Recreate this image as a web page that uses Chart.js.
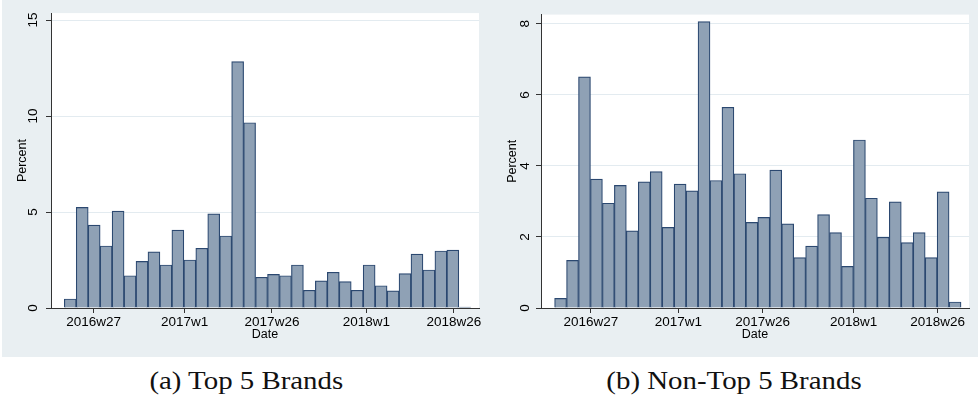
<!DOCTYPE html>
<html>
<head>
<meta charset="utf-8">
<script src="https://cdn.jsdelivr.net/npm/chart.js@4.4.1/dist/chart.umd.min.js"></script>
<style>
    html, body { margin: 0; padding: 0; background: #ffffff; }
    body { width: 980px; height: 398px; position: relative; overflow: hidden; }
    .panel { position: absolute; top: 0; width: 488px; height: 357px; background: #e9eff2; }
    .caption {
        position: absolute; top: 368px; width: 488px; text-align: center;
        font-family: "Liberation Serif", serif; font-size: 26px; line-height: 26px; color: #111;
    }
    .caption span { display: inline-block; transform: scaleX(1.11); }
</style>
</head>
<body>
<div class="panel" style="left:2px"><canvas id="top5-chart" width="488" height="357"></canvas></div>
<div class="panel" style="left:490px"><canvas id="nontop5-chart" width="488" height="357"></canvas></div>
<div class="caption" style="left:2px"><span>(a) Top 5 Brands</span></div>
<div class="caption" style="left:490px"><span>(b) Non-Top 5 Brands</span></div>
<script>
// week index: 0 = 2016w27
const tickWeeks = [0, 26, 51, 78, 103];
const tickLabels = ['2016w27', '2017w1', '2017w26', '2018w1', '2018w26'];

// histogram bins (in weeks from 2016w27)
const top5BinStart = -8.40;
const top5BinWidth = 3.419;
const top5Percent = [0.47, 5.24, 4.32, 3.23, 5.05, 1.68, 2.43, 2.92, 2.24, 4.06,
    2.50, 3.11, 4.90, 3.75, 12.83, 9.65, 1.60, 1.75, 1.68, 2.24,
    0.92, 1.41, 1.86, 1.37, 0.92, 2.24, 1.16, 0.89, 1.79, 2.81,
    1.98, 2.97, 3.02, 0.05];
const top5YTicks = [0, 5, 10, 15];

const nonTop5BinStart = -10.80;
const nonTop5BinWidth = 3.551;
const nonTop5Percent = [0.27, 1.34, 6.51, 3.63, 2.95, 3.45, 2.17, 3.55, 3.84, 2.27,
    3.49, 3.30, 8.06, 3.59, 5.65, 3.78, 2.41, 2.55, 3.88, 2.37,
    1.42, 1.74, 2.63, 2.12, 1.17, 4.73, 3.09, 1.99, 2.99, 1.84,
    2.12, 1.42, 3.27, 0.17];
const nonTop5YTicks = [0, 2, 4, 6, 8];

const plotAreaPlugin = {
    id: 'plotArea',
    beforeDraw: function(chart) {
        const a = chart.chartArea;
        chart.ctx.save();
        chart.ctx.fillStyle = '#ffffff';
        chart.ctx.fillRect(a.left, a.top, a.right - a.left, a.bottom - a.top);
        chart.ctx.restore();
    }
};

function histogram(canvas, opts) {
    const points = opts.values.map(function(v, i) {
        return { x: opts.binStart + (i + 0.5) * opts.binWidth, y: v };
    });
    new Chart(canvas, {
        type: 'bar',
        data: {
            datasets: [{
                data: points,
                backgroundColor: '#8fa1b5',
                borderColor: '#2b4870',
                borderWidth: 1.2,
                barPercentage: 1,
                categoryPercentage: 1
            }]
        },
        options: {
            responsive: false,
            animation: false,
            events: [],
            layout: { padding: { top: 13, right: opts.padRight, left: 0, bottom: 0 } },
            plugins: { legend: { display: false }, tooltip: { enabled: false } },
            scales: {
                x: {
                    type: 'linear',
                    min: opts.xMin,
                    max: opts.xMax,
                    offset: false,
                    afterFit: function(scale) { scale.height = 49; },
                    afterBuildTicks: function(scale) {
                        scale.ticks = tickWeeks.map(function(w) { return { value: w }; });
                    },
                    grid: { offset: false, drawOnChartArea: false, tickLength: 5, tickColor: '#333' },
                    border: { color: '#333', width: 1 },
                    ticks: {
                        autoSkip: false,
                        maxRotation: 0,
                        padding: 1,
                        color: '#000',
                        font: { family: 'Liberation Sans', size: 13.5 },
                        callback: function(value) { return tickLabels[tickWeeks.indexOf(value)]; }
                    },
                    title: {
                        display: true,
                        text: 'Date',
                        color: '#000',
                        font: { family: 'Liberation Sans', size: 12.5 },
                        padding: { top: 0, bottom: 15 }
                    }
                },
                y: {
                    min: 0,
                    max: opts.yMax,
                    afterFit: function(scale) { scale.width = opts.yWidth; },
                    afterBuildTicks: function(scale) {
                        scale.ticks = opts.yTicks.map(function(v) { return { value: v }; });
                    },
                    grid: {
                        color: function(ctx) { return ctx.tick && ctx.tick.value === 0 ? 'rgba(0,0,0,0)' : '#e3ebf0'; },
                        tickLength: 5,
                        tickColor: '#333'
                    },
                    border: { color: '#333', width: 1 },
                    ticks: {
                        minRotation: 90,
                        maxRotation: 90,
                        crossAlign: 'center',
                        padding: opts.yTickPad,
                        color: '#000',
                        font: { family: 'Liberation Sans', size: 13.5 }
                    },
                    title: {
                        display: true,
                        text: 'Percent',
                        color: '#000',
                        font: { family: 'Liberation Sans', size: 12.5 },
                        padding: { top: opts.yTitlePad, bottom: 0 }
                    }
                }
            }
        },
        plugins: [plotAreaPlugin]
    });
}

histogram(document.getElementById('top5-chart'), {
    values: top5Percent, binStart: top5BinStart, binWidth: top5BinWidth,
    xMin: -12.2, xMax: 110.2, yMax: 15.36, yTicks: top5YTicks,
    yWidth: 49, padRight: 11, yTickPad: 5, yTitlePad: 13.2
});

histogram(document.getElementById('nontop5-chart'), {
    values: nonTop5Percent, binStart: nonTop5BinStart, binWidth: nonTop5BinWidth,
    xMin: -14.84, xMax: 112.3, yMax: 8.26, yTicks: nonTop5YTicks,
    yWidth: 51, padRight: 9, yTickPad: 6.5, yTitlePad: 15.2
});
</script>
</body>
</html>
